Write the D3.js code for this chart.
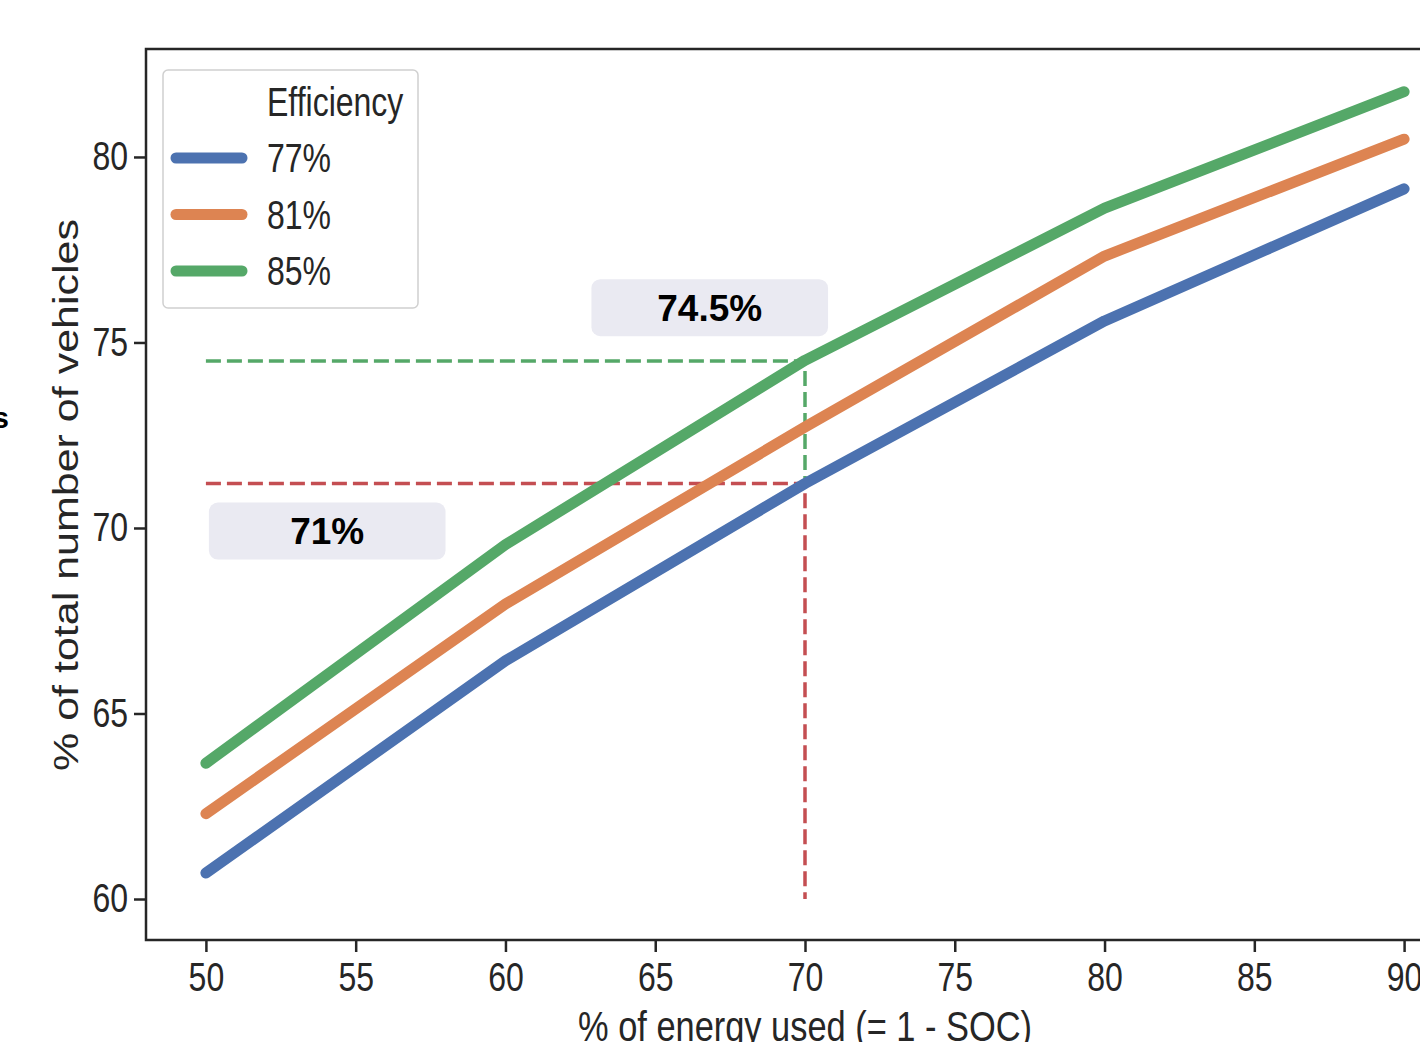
<!DOCTYPE html>
<html>
<head>
<meta charset="utf-8">
<script src="https://cdn.jsdelivr.net/npm/d3@7"></script>
<style>
  body { margin: 0; background: #fff; }
  svg { display: block; }
</style>
</head>
<body>
<div class="chart"></div>
<script>
const dims = { width: 1420, height: 1042 };
const plot = { left: 146, top: 49, right: 1464, bottom: 940 };
const squeeze = 0.8; // the source image is narrowed horizontally

// data
const energy_used = [50, 60, 70, 80, 90];
const eff_77 = [60.70, 66.42, 71.20, 75.58, 79.14];
const eff_81 = [62.30, 67.95, 72.72, 77.33, 80.48];
const eff_85 = [63.66, 69.55, 74.52, 78.62, 81.76];
const series_names = ["77%", "81%", "85%"];
const series_colors = ["#4c72b0", "#dd8452", "#55a868"];
const x_ticks = [50, 55, 60, 65, 70, 75, 80, 85, 90];
const y_ticks = [60, 65, 70, 75, 80];

// annotation values
const marker_x = 70;
const green_level = 74.5;
const red_level = 71.2;
const annot_boxes = [
  { text: "74.5%", x0: 62.87, x1: 70.77, y: 75.95 },
  { text: "71%", x0: 50.1, x1: 58.0, y: 69.93 }
];

const all_series = [eff_77, eff_81, eff_85];

var svg = d3.select(".chart")
            .append("svg")
            .attr("width", dims.width)
            .attr("height", dims.height);

var x = d3.scaleLinear().domain([48, 92]).range([plot.left, plot.right]);
var y = d3.scaleLinear().domain([58.895, 82.91]).range([plot.bottom, plot.top]);

const tick_font = "'Liberation Sans', Arial, sans-serif";

// axes
const x_axis = svg.append("g")
    .attr("transform", `translate(0,${plot.bottom})`)
    .call(d3.axisBottom(x).tickValues(x_ticks).tickSize(12).tickPadding(11).tickSizeOuter(0));
const y_axis = svg.append("g")
    .attr("transform", `translate(${plot.left},0)`)
    .call(d3.axisLeft(y).tickValues(y_ticks).tickSize(12).tickPadding(6).tickSizeOuter(0));

[x_axis, y_axis].forEach(function(ax){
  ax.select(".domain").remove();
  ax.selectAll(".tick line").attr("stroke", "#262626").attr("stroke-width", 2.5);
  ax.selectAll(".tick text")
    .attr("font-family", tick_font)
    .attr("font-size", 40)
    .style("fill", "#262626");
});
x_axis.selectAll(".tick text").attr("transform", `scale(${squeeze},1)`);
y_axis.selectAll(".tick text").attr("x", -18 / squeeze).attr("transform", `scale(${squeeze},1)`);

// spines
svg.append("path")
   .attr("d", `M${plot.right},${plot.top}H${plot.left}V${plot.bottom}H${plot.right}`)
   .attr("fill", "none")
   .attr("stroke", "#262626")
   .attr("stroke-width", 2.5);

// dashed guides
const guides = [
  { color: "#55a868", pts: [[50, green_level], [marker_x, green_level], [marker_x, red_level]] },
  { color: "#c44e52", pts: [[50, red_level], [marker_x, red_level], [marker_x, 60]] }
];
svg.selectAll(".guide").data(guides).enter().append("path")
   .attr("class", "guide")
   .attr("d", function(d){ return d3.line().x(p => x(p[0])).y(p => y(p[1]))(d.pts); })
   .attr("fill", "none")
   .attr("stroke", d => d.color)
   .attr("stroke-width", 3.5)
   .attr("stroke-dasharray", "15,6");

// lines
const line = d3.line().x((d, i) => x(energy_used[i])).y(d => y(d));
svg.selectAll(".series").data(all_series).enter().append("path")
   .attr("class", "series")
   .attr("d", d => line(d))
   .attr("fill", "none")
   .attr("stroke", (d, i) => series_colors[i])
   .attr("stroke-width", 11)
   .attr("stroke-linecap", "round")
   .attr("stroke-linejoin", "round");

// annotation boxes
const annots = svg.selectAll(".annot").data(annot_boxes).enter().append("g").attr("class", "annot");
annots.append("rect")
   .attr("x", d => x(d.x0))
   .attr("y", d => y(d.y) - 28)
   .attr("width", d => x(d.x1) - x(d.x0))
   .attr("height", 57)
   .attr("rx", 9)
   .attr("fill", "#eaeaf2");
annots.append("text")
   .attr("x", d => (x(d.x0) + x(d.x1)) / 2)
   .attr("y", d => y(d.y))
   .attr("dy", "0.36em")
   .attr("text-anchor", "middle")
   .attr("font-family", tick_font)
   .attr("font-weight", "bold")
   .attr("font-size", 37)
   .style("fill", "#000")
   .text(d => d.text);

// legend
const legend = svg.append("g");
legend.append("rect")
   .attr("x", 163).attr("y", 70)
   .attr("width", 255).attr("height", 238)
   .attr("rx", 5)
   .attr("fill", "#fff")
   .attr("stroke", "#d0d0d0")
   .attr("stroke-width", 1.5);
legend.append("text")
   .attr("transform", `translate(267,102) scale(${squeeze},1)`)
   .attr("dy", "0.36em")
   .attr("font-family", tick_font)
   .attr("font-size", 40)
   .style("fill", "#262626")
   .text("Efficiency");
const entries = legend.selectAll(".entry").data(series_names).enter().append("g")
   .attr("class", "entry")
   .attr("transform", (d, i) => `translate(0,${158 + i * 56.5})`);
entries.append("line")
   .attr("x1", 176).attr("x2", 242)
   .attr("stroke", (d, i) => series_colors[i])
   .attr("stroke-width", 11)
   .attr("stroke-linecap", "round");
entries.append("text")
   .attr("transform", `translate(267,0) scale(${squeeze},1)`)
   .attr("dy", "0.36em")
   .attr("font-family", tick_font)
   .attr("font-size", 40)
   .style("fill", "#262626")
   .text(d => d);

// axis labels
svg.append("text")
   .attr("transform", `translate(${x(70)},1041) scale(${squeeze},1)`)
   .attr("text-anchor", "middle")
   .attr("font-family", tick_font)
   .attr("font-size", 43)
   .style("fill", "#262626")
   .text("% of energy used (= 1 - SOC)");
svg.append("text")
   .attr("transform", `translate(78,495) scale(${squeeze},1) rotate(-90)`)
   .attr("text-anchor", "middle")
   .attr("font-family", tick_font)
   .attr("font-size", 43)
   .style("fill", "#262626")
   .text("% of total number of vehicles");

// clipped remnant of a neighbouring label
svg.append("text")
   .attr("x", 9).attr("y", 428)
   .attr("text-anchor", "end")
   .attr("font-family", tick_font)
   .attr("font-weight", "bold")
   .attr("font-size", 30)
   .style("fill", "#000")
   .text("s");
</script>
</body>
</html>
